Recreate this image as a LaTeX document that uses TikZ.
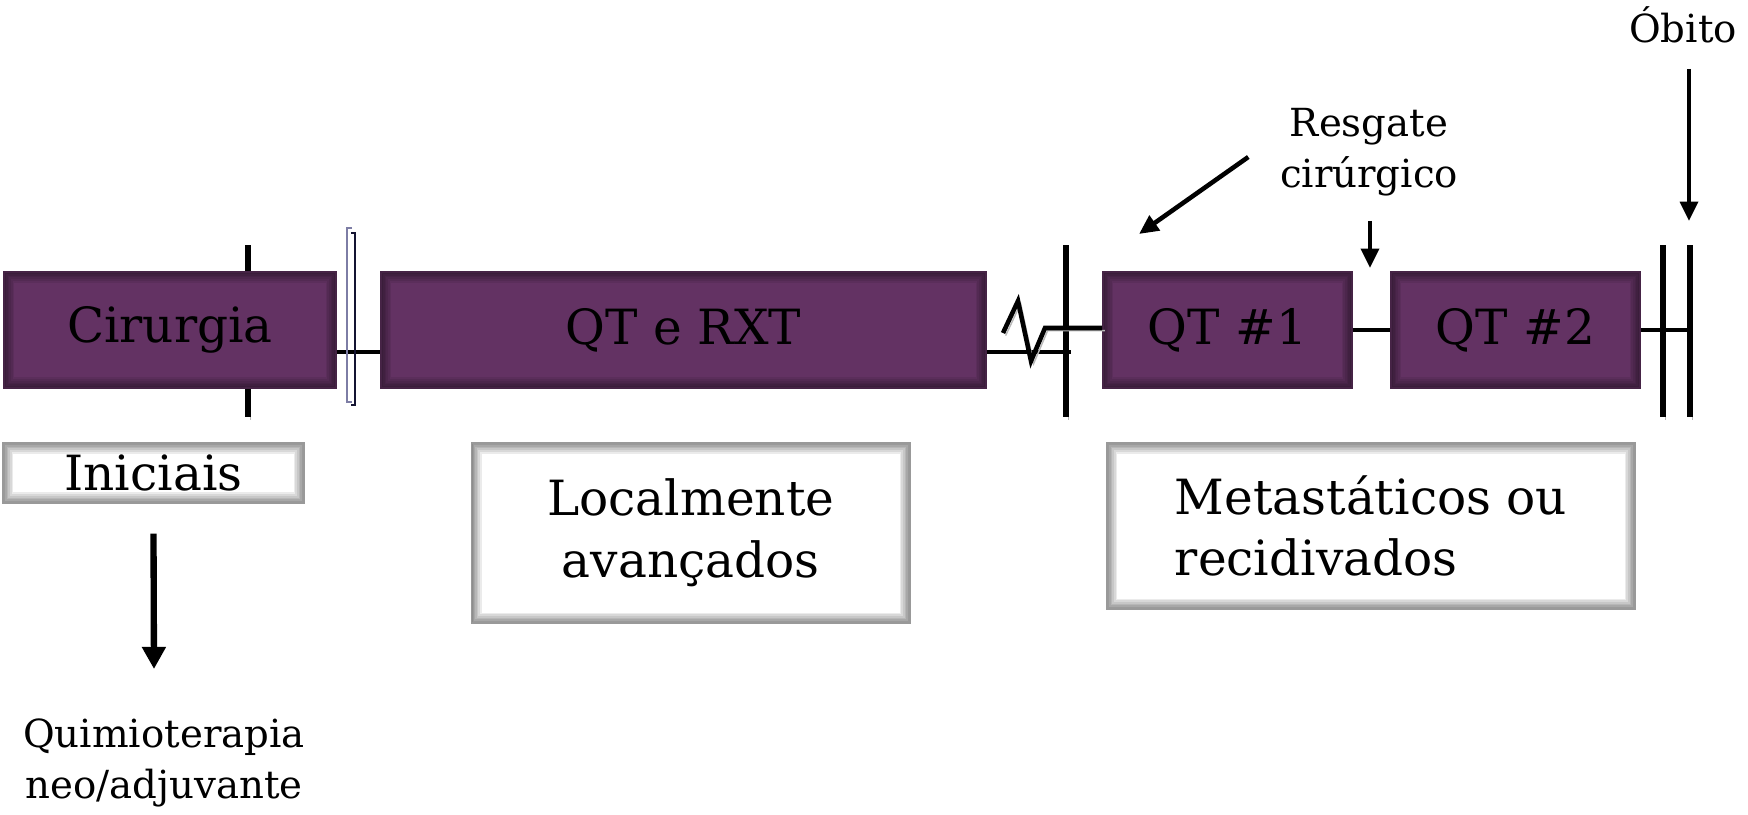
\documentclass[tikz,border=0pt]{standalone}
\usepackage{fontspec}
\setmainfont{DejaVu Serif}
\usepackage{tikz}
\usetikzlibrary{arrows.meta, positioning, calc}
\usepackage{xcolor}

\definecolor{boxpurple}{RGB}{99,50,99}
\definecolor{brlight}{RGB}{125,125,165}
\definecolor{brdark}{RGB}{20,20,50}
\newcommand\bigtext{\fontsize{13.8}{17.5}\selectfont}
\newcommand\smalltext{\fontsize{11}{14.6}\selectfont}

\tikzset{
	glow/.style={path picture={\foreach \lw in {6,5,4,3,2.2,1.4,0.7}{\draw[#1, opacity=0.08, line width=\lw pt] (path picture bounding box.south west) rectangle (path picture bounding box.north east);}}},
	phase/.style={fill=boxpurple, draw=boxpurple!70!black, line width=0.4pt, glow=black, inner sep=0pt, minimum height=1.16cm, font=\bigtext},
	stage/.style={fill=white, draw=gray!80, line width=0.4pt, glow=black, inner sep=0pt, font=\bigtext, align=center},
	note/.style={inner sep=0pt, font=\smalltext, align=center},
	shade/.style={preaction={draw=gray!55, transform canvas={shift={(0.75pt,-0.75pt)}}}},
	bar/.style={line width=1.7pt, shade},
	link/.style={line width=1.3pt},
	pointer/.style={line width=1.3pt, -{Triangle[length=5.5pt,width=5pt]}}
}

\begin{document}
\begin{tikzpicture}[x=0.01cm, y=-0.01cm]
	\useasboundingbox (0,0) rectangle (1748,815);

	% time marks
	\foreach \x/\n in {248/b1, 1066/b2, 1663/b3, 1690/b4} {
		\coordinate (\n t) at (\x,245);
		\coordinate (\n b) at (\x,417);
		\draw[bar] (\n t) -- (\n b);
	}

	% treatment phases
	\node[phase, minimum width=3.32cm] (cir) at (170,330) {Cirurgia};
	\node[phase, minimum width=6.05cm] (qtr) at (683.5,330) {QT e RXT};
	\node[phase, minimum width=2.49cm] (qt1) at (1227.5,330) {QT \#1};
	\node[phase, minimum width=2.49cm] (qt2) at (1515.5,330) {QT \#2};

	% stages
	\node[stage, minimum width=3.01cm, minimum height=0.60cm] (ini) at (153.5,473) {Iniciais};
	\node[stage, minimum width=4.385cm, minimum height=1.80cm] (loc) at (690.75,533) {Localmente\\avançados};
	\node[stage, minimum width=5.28cm, minimum height=1.66cm, align=left] (met) at (1371,526) {Metastáticos ou\\recidivados};

	% notes
	\node[note] (obt) at (1683,25) {Óbito};
	\node[note] (res) at (1369,152) {Resgate\\cirúrgico};
	\node[note] (qui) at (164,763) {Quimioterapia\\neo/adjuvante};

	% links
	\draw[link] ($(cir.east)+(0,22)$) -- ($(qtr.west)+(0,22)$);
	\draw[link] ($(qtr.east)+(0,22)$) -- ($(b2t |- qtr.east)+(5,22)$);
	\coordinate (z1) at (1003,333);
	\coordinate (z2) at (1018,301);
	\coordinate (z3) at (1031,361);
	\coordinate (z4) at (1045,328);
	\draw[link, shade] (z1) -- (z2) -- (z3) -- (z4) -- (qt1.west |- z4);
	\draw[link] (qt1) -- (qt2);
	\draw[link] (qt2) -- (b4t |- qt2);

	% bracket
	\draw[brlight, line width=0.7pt] (352,228) -- (347,228) -- (347,402) -- (352,402);
	\draw[brdark, line width=0.8pt] (351,233) -- (355,233) -- (355,405) -- (351,405);

	% arrows
	\coordinate (dth) at (1689,221);
	\coordinate (sal) at (1139,234);
	\coordinate (sv) at (1370,268);
	\coordinate (ia) at (154,669);
	\draw[pointer] ($(obt.south -| dth)+(0,25)$) -- (dth);
	\draw[pointer] ($(res.west)+(-31,5)$) -- (sal);
	\draw[pointer] ($(res.south)+(1,24)$) -- (sv);
	\draw[pointer, line width=1.8pt, -{Triangle[length=6.3pt,width=6.5pt]}] ($(ini.south)+(0,30)$) -- (ia);
\end{tikzpicture}
\end{document}
